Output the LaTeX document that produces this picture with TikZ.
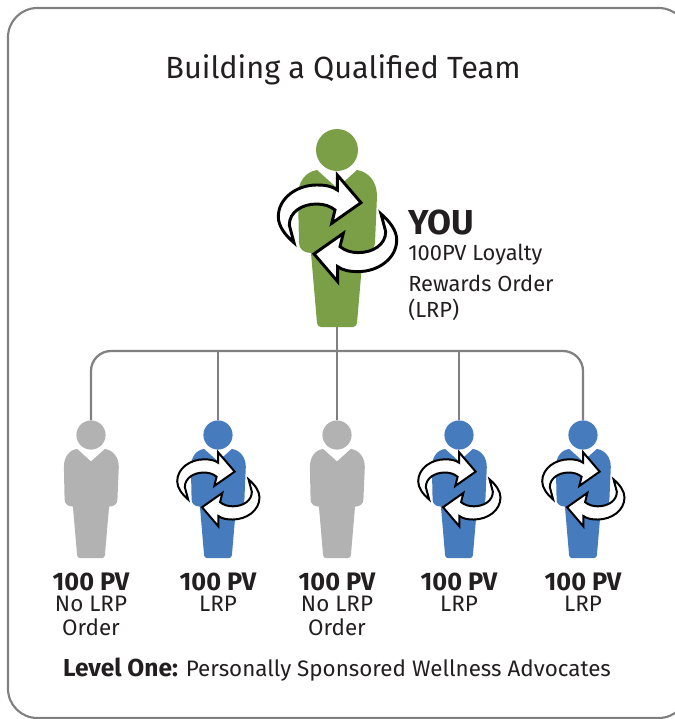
\documentclass[tikz,border=0pt]{standalone}
\usepackage{fontspec}
\setmainfont{Fira Sans}
\definecolor{pgreen}{HTML}{7A9F46}
\definecolor{pblue}{HTML}{467CBE}
\definecolor{pgray}{HTML}{B2B2B2}
\definecolor{lineg}{HTML}{808080}
\definecolor{txt}{HTML}{231F20}
\tikzset{
  x=0.75pt,y=-0.75pt,
  frame/.style={draw=lineg,line width=1.6pt,rounded corners=22pt},
  link/.style={draw=lineg,line width=1.7pt},
  swoosh/.style={draw=black,fill=white,line join=miter,miter limit=6},
  titletext/.style={anchor=center,inner sep=0,text=txt,font=\fontsize{23}{28}\selectfont},
  pv/.style={anchor=center,inner sep=0,text=txt,font=\fontsize{19}{22}\selectfont\bfseries},
  sub/.style={anchor=center,inner sep=0,text=txt,font=\fontsize{16.8}{20}\selectfont},
  youtext/.style={anchor=west,inner sep=0,text=txt,font=\fontsize{26}{30}\selectfont\bfseries},
  body/.style={anchor=west,inner sep=0,text=txt,font=\fontsize{16.4}{20}\selectfont},
}
% #1 name, #2 x, #3 y, #4 scale, #5 colour
\newcommand{\personshape}[5]{%
  \begin{scope}[shift={(#2,#3)},scale=#4]
    \node[circle,fill=#5,inner sep=0,minimum size=#4*31.5pt] (#1) at (0,0) {};
    \fill[#5] (-20,20)
      -- (0,38) -- (20,20)
      .. controls (32,22) and (40,32) .. (40,46)
      -- (38,93) .. controls (38,99) and (33,103) .. (26,103)
      -- (20,173) .. controls (19.5,175.5) and (18,177) .. (16,177)
      -- (-16,177) .. controls (-18,177) and (-19.5,175.5) .. (-20,173)
      -- (-26,103) .. controls (-33,103) and (-38,99) .. (-38,93)
      -- (-39,46) .. controls (-39,32) and (-32,22) .. (-20,20) -- cycle;
    \coordinate (#1foot) at (0,177);
  \end{scope}}
% #1 x, #2 y, #3 scale, #4 line width
\newcommand{\loopswoosh}[4]{%
  \begin{scope}[shift={(#1,#2)},scale=#3]
    \foreach \r in {0,180}{
      \begin{scope}[shift={(0.5,78.3)},rotate=\r,shift={(-0.5,-78.3)}]
        \path[swoosh,line width=#4] (24,52.7) -- (0.3,25) -- (0.3,40)
          .. controls (-5,36) and (-12,35) .. (-20.3,35)
          .. controls (-40,35) and (-58.7,48) .. (-58.7,66.7)
          .. controls (-58.7,76) and (-52,85) .. (-43,92.7)
          -- (-47.7,75)
          .. controls (-47.7,62) and (-35,54) .. (-20.3,54)
          .. controls (-13,54) and (-7,56) .. (-2,60)
          -- (-5.3,73.3) -- cycle;
      \end{scope}}
  \end{scope}}
\begin{document}
\begin{tikzpicture}
\useasboundingbox (0,0) rectangle (675,719);
\begin{scope}
\clip (0,0) rectangle (675,719);
\draw[frame] (8,8) rectangle (688,718);
\end{scope}
\node[titletext] (title) at (343,70) {Building a Qualified Team};

\personshape{you}{337}{150}{1}{pgreen}
\personshape{pa}{91}{435}{0.695}{pgray}
\personshape{pb}{218}{435}{0.695}{pblue}
\personshape{pc}{337}{435}{0.695}{pgray}
\personshape{pd}{459}{435}{0.695}{pblue}
\personshape{pe}{583}{435}{0.695}{pblue}

\coordinate (busL) at (91,351);
\coordinate (busR) at (583,351);
\draw[link,rounded corners=15pt] (pa.north) -- (busL) -- (busR) -- (pe.north);
\draw[link] (pb.north) -- (pb.north |- busL);
\draw[link] (youfoot) -- (pc.north);
\draw[link] (pd.north) -- (pd.north |- busL);

\loopswoosh{337}{150}{1}{2.2pt}
\loopswoosh{218}{435}{0.695}{1.5pt}
\loopswoosh{459}{435}{0.695}{1.5pt}
\loopswoosh{583}{435}{0.695}{1.5pt}

\node[youtext] (you label) at (408,222) {YOU};
\node[body] (l1) at (408,255) {100PV Loyalty};
\node[body] (l2) at (408,283) {Rewards Order};
\node[body] (l3) at (408,310) {(LRP)};

\node[pv] (a1) at (91,582) {100 PV};
\node[sub] (a2) at (91,604) {No LRP};
\node[sub] (a3) at (91,627) {Order};
\node[pv] (b1) at (218,582) {100 PV};
\node[sub] (b2) at (218,604) {LRP};
\node[pv] (c1) at (337,582) {100 PV};
\node[sub] (c2) at (337,604) {No LRP};
\node[sub] (c3) at (337,627) {Order};
\node[pv] (d1) at (459,582) {100 PV};
\node[sub] (d2) at (459,604) {LRP};
\node[pv] (e1) at (583,582) {100 PV};
\node[sub] (e2) at (583,604) {LRP};

\node[sub] (level) at (337,670) {{\fontsize{18.4}{20}\selectfont\bfseries Level One:} Personally Sponsored Wellness Advocates};
\end{tikzpicture}
\end{document}
